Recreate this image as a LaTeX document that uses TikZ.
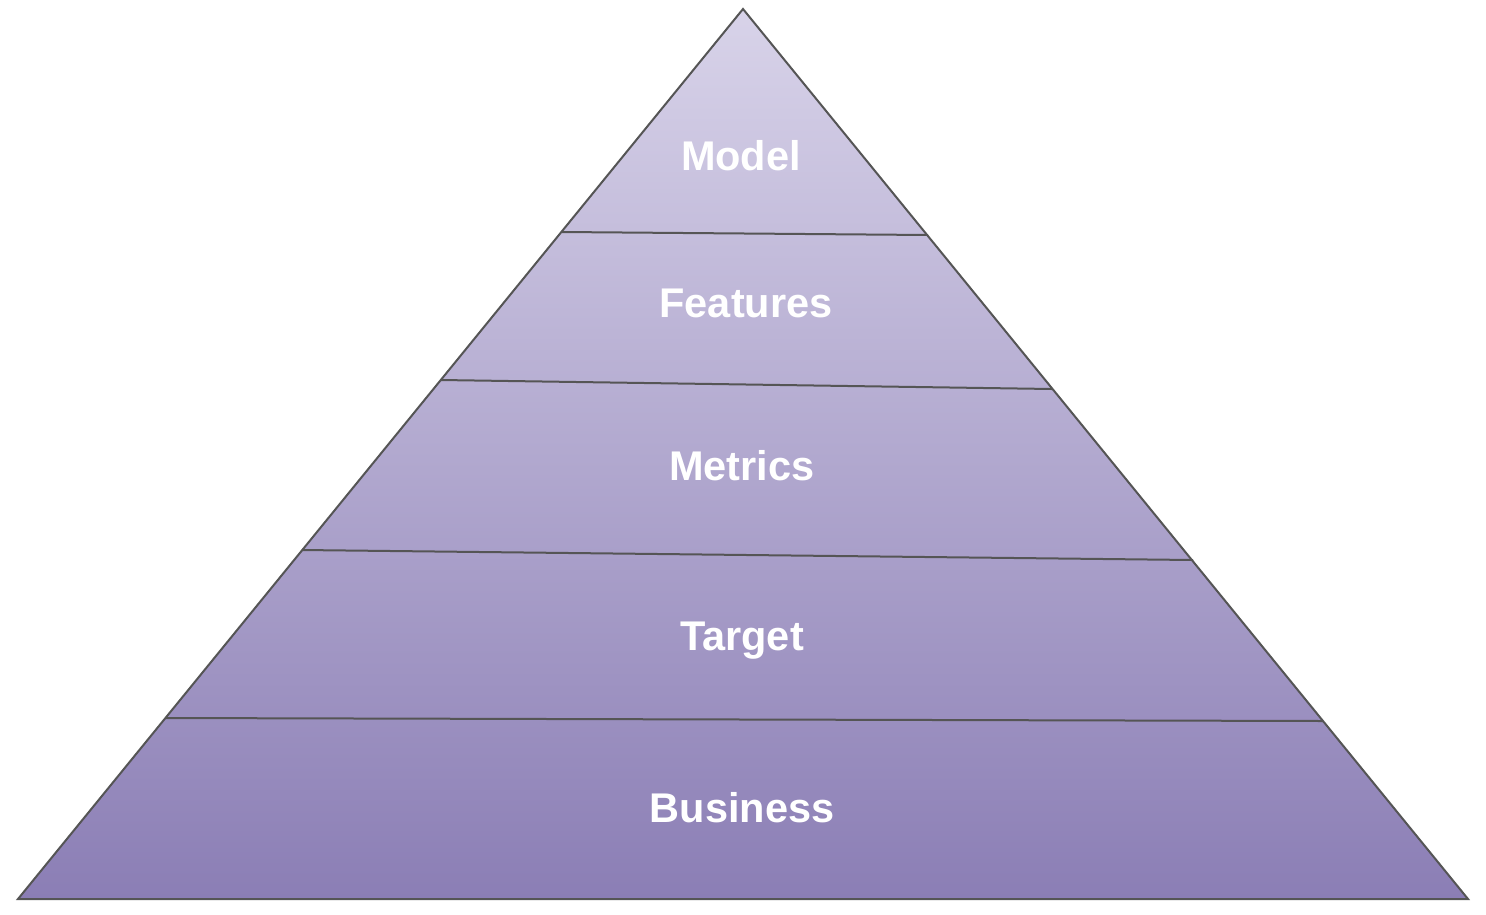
\documentclass[tikz,border=0pt]{standalone}
\usepackage{fontspec}
\setmainfont{Liberation Sans}
\definecolor{topc}{HTML}{D8D3E9}
\definecolor{botc}{HTML}{8B7EB5}
\definecolor{edge}{HTML}{555555}
\begin{document}
\begin{tikzpicture}[x=1pt,y=-1pt,
  lbl/.style={text=white,font=\fontsize{41.5}{48}\selectfont\bfseries,anchor=center,
    text height=29.5pt,text depth=0pt,inner sep=0pt},
  sep/.style={draw=edge,line width=2pt}]
\useasboundingbox (0,0) rectangle (1486,914);
\coordinate (A) at (743,9);
\coordinate (L) at (18,899);
\coordinate (R) at (1468,899);
\shade[top color=topc,bottom color=botc] (A) -- (L) -- (R) -- cycle;
\coordinate (l1) at (562,232); \coordinate (r1) at (928,235);
\coordinate (l2) at (441,380); \coordinate (r2) at (1052,389);
\coordinate (l3) at (302,550); \coordinate (r3) at (1193,560);
\coordinate (l4) at (166,718); \coordinate (r4) at (1323,721);
\draw[sep] (l1) -- (r1);
\draw[sep] (l2) -- (r2);
\draw[sep] (l3) -- (r3);
\draw[sep] (l4) -- (r4);
\draw[draw=edge,line width=2pt,line join=miter] (A) -- (L) -- (R) -- cycle;
\node[lbl] (model) at (741,156) {Model};
\node[lbl] (features) at (746,303) {Features};
\node[lbl] (metrics) at (742,466) {Metrics};
\node[lbl] (target) at (742,636) {Target};
\node[lbl] (business) at (742,808) {Business};
\end{tikzpicture}
\end{document}
